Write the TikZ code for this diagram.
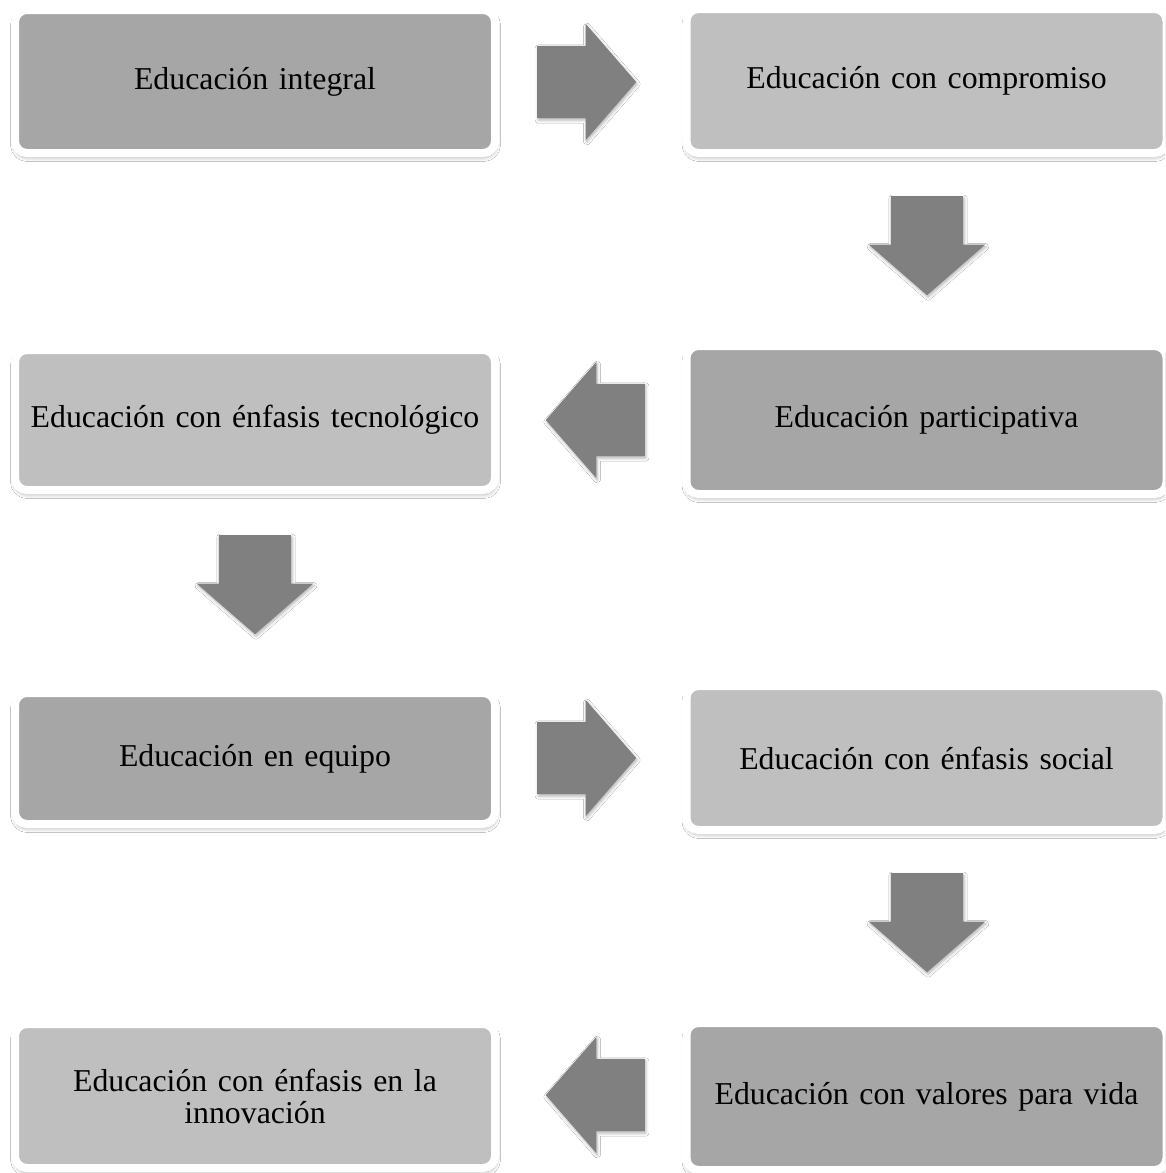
\documentclass[tikz,border=0pt]{standalone}
\usepackage{fontspec}
\setmainfont{Liberation Serif}
\usetikzlibrary{shapes.arrows,shadows.blur,calc}
\definecolor{boxdark}{HTML}{A6A6A6}
\definecolor{boxlight}{HTML}{BFBFBF}
\definecolor{arrowgray}{HTML}{808080}
\begin{document}
\begin{tikzpicture}[x=1pt,y=-1pt,
  stagebox/.style={rectangle, rounded corners=12pt, draw=white, line width=8pt,
    minimum width=480pt, inner sep=0pt, align=center, text width=460pt,
    font=\fontsize{31.8}{32}\selectfont,
    blur shadow={shadow xshift=0.5pt, shadow yshift=-3.5pt, shadow blur radius=5pt, shadow blur steps=8, shadow opacity=40}},
  darkbox/.style={stagebox, fill=boxdark},
  lightbox/.style={stagebox, fill=boxlight},
  blockarrow/.style={single arrow, fill=arrowgray, draw=none,
    inner xsep=0pt, inner ysep=36pt, anchor=tail,
    minimum height=99pt, single arrow head extend=22pt,
    single arrow tip angle=98, single arrow head indent=0pt,
    blur shadow={shadow xshift=1pt, shadow yshift=-2pt, shadow blur radius=3pt, shadow blur steps=5, shadow opacity=30}}]
\clip (0,0) rectangle (1165,1173);
\fill[white] (0,0) rectangle (1165,1173);
% boxes
\node[darkbox,  minimum height=143pt] (b1) at (255,81.5) {Educación integral};
\node[lightbox, minimum height=144pt] (b2) at (926.5,81) {Educación con compromiso};
\node[darkbox,  minimum height=148pt] (b3) at (926.5,420) {Educación participativa};
\node[lightbox, minimum height=140pt] (b4) at (255,420) {Educación con énfasis tecnológico};
\node[darkbox,  minimum height=131pt] (b5) at (255,758.5) {Educación en equipo};
\node[lightbox, minimum height=144pt] (b6) at (926.5,758) {Educación con énfasis social};
\node[darkbox,  minimum height=147pt] (b7) at (926.5,1096.5) {Educación con valores para vida};
\node[lightbox, minimum height=144pt] (b8) at (255,1096) {Educación con énfasis en la\\innovación};
% arrows (placed by their tails)
\node[blockarrow] (a1) at (537,82) {};
\node[blockarrow, rotate=-90] (a2) at (927,196) {};
\node[blockarrow, rotate=180] (a3) at (645,420) {};
\node[blockarrow, rotate=-90] (a4) at (255,535) {};
\node[blockarrow] (a5) at (537,758) {};
\node[blockarrow, rotate=-90] (a6) at (927,873) {};
\node[blockarrow, rotate=180] (a7) at (645,1095) {};
\end{tikzpicture}
\end{document}
